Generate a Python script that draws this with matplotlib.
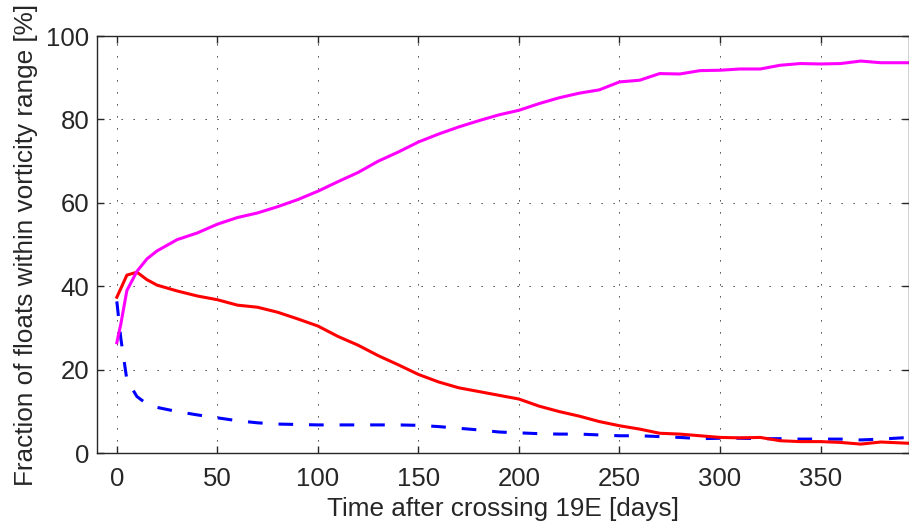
import matplotlib
matplotlib.use("Agg")
import matplotlib.pyplot as plt

days = [0, 2, 5, 10, 15, 20, 30, 40, 50, 60, 70, 80, 90, 100, 110, 120, 130,
        140, 150, 160, 170, 180, 190, 200, 210, 220, 230, 240, 250, 260, 270,
        280, 290, 300, 310, 320, 330, 340, 350, 360, 370, 380, 394]

red = [37.4, 39.5, 42.7, 43.4, 41.6, 40.3, 38.9, 37.7, 36.8, 35.5, 35.0, 33.8,
       32.2, 30.5, 28.0, 25.9, 23.4, 21.2, 18.9, 17.1, 15.7, 14.8, 13.9, 13.0,
       11.3, 10.0, 8.9, 7.6, 6.6, 5.8, 4.8, 4.6, 4.2, 3.8, 3.7, 3.8, 3.0, 2.8,
       2.8, 2.6, 2.2, 2.7, 2.4]

blue = [36.4, 27.5, 17.6, 13.6, 11.8, 11.0, 10.0, 9.2, 8.5, 7.8, 7.3, 7.0,
        6.9, 6.8, 6.8, 6.8, 6.8, 6.8, 6.7, 6.4, 6.0, 5.6, 5.1, 4.9, 4.7, 4.6,
        4.6, 4.4, 4.2, 4.2, 4.0, 3.8, 3.5, 3.6, 3.6, 3.5, 3.5, 3.4, 3.4, 3.4,
        3.2, 3.4, 3.8]

magenta = [26.5, 31.0, 39.0, 43.6, 46.6, 48.5, 51.2, 52.8, 54.9, 56.5, 57.6,
           59.1, 60.8, 62.8, 65.1, 67.3, 70.0, 72.2, 74.6, 76.5, 78.2, 79.7,
           81.1, 82.2, 83.8, 85.2, 86.3, 87.1, 89.0, 89.4, 91.0, 90.9, 91.7,
           91.8, 92.1, 92.1, 93.0, 93.4, 93.3, 93.4, 94.0, 93.6, 93.6]

xticks = [0, 50, 100, 150, 200, 250, 300, 350]
yticks = [0, 20, 40, 60, 80, 100]

plt.rcParams["font.family"] = ["Liberation Sans", "DejaVu Sans"]

fig = plt.figure(figsize=(9.09, 5.25), dpi=100)
ax = fig.add_axes([0.1064, 0.1366, 0.8936, 0.7948])

ax.plot(days, blue, color="#0000ff", lw=2.2, dashes=(4.8, 5.2),
        dash_capstyle="butt")
ax.plot(days, red, color="#ff0000", lw=2.2)
ax.plot(days, magenta, color="#ff00ff", lw=2.2)

ax.set_xlim(-10, 394)
ax.set_ylim(0, 100)
ax.set_xticks(xticks)
ax.set_yticks(yticks)
ax.grid(True, color="black", linestyle=(0, (1.5, 12.9)), linewidth=0.6)
ax.tick_params(direction="in", length=5, width=1, top=True, right=True,
               labelsize=18.5, colors="#262626")
ax.tick_params(axis="x", pad=10)
ax.tick_params(axis="y", pad=5.3)
for s in ax.spines.values():
    s.set_linewidth(1)
    s.set_color("#262626")

ax.set_xlabel("Time after crossing 19E [days]", fontsize=18.8, color="#262626",
              labelpad=4)
ax.set_ylabel("Fraction of floats within vorticity range [%]", fontsize=18.8,
              color="#262626", labelpad=6)

fig.savefig("out.png", dpi=100)
plt.close(fig)
